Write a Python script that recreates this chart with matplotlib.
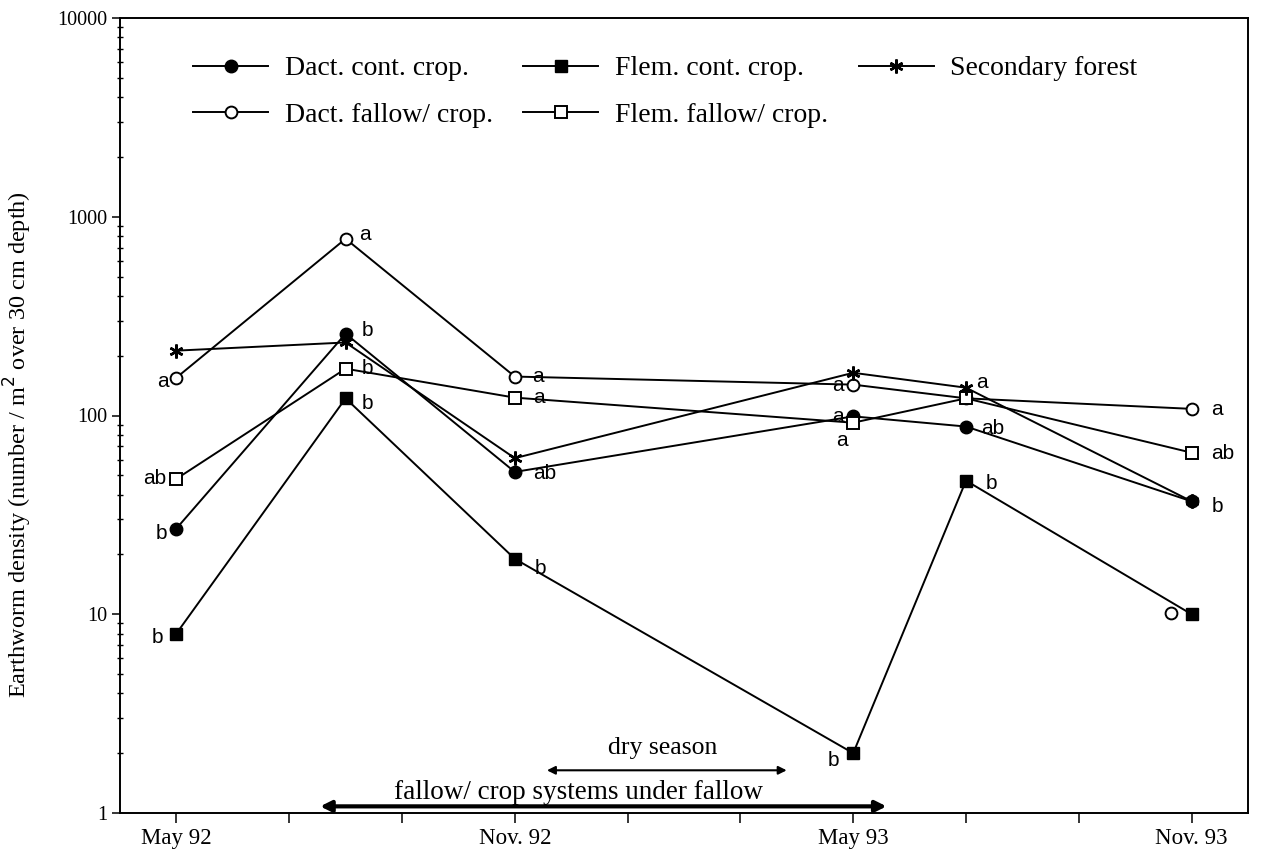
import matplotlib
matplotlib.use("Agg")
import matplotlib.pyplot as plt
from matplotlib.ticker import FixedLocator, LogLocator, NullFormatter

# ---------------- data ----------------
# sampling dates in months after May 1992
months = [0, 3, 6, 12, 14, 18]
tick_months = [0, 6, 12, 18]
tick_labels = ["May 92", "Nov. 92", "May 93", "Nov. 93"]
minor_months = [2, 4, 8, 10, 14, 16]

series_names = ["Dact. cont. crop.", "Dact. fallow/ crop.", "Flem. cont. crop.",
                "Flem. fallow/ crop.", "Secondary forest"]
dact_cont = [27, 258, 52, 99, 88, 37]
dact_fallow = [155, 775, 157, 143, 122, 108]
flem_cont = [8, 122, 19, 2, 47, 10]
flem_fallow = [48, 172, 123, 92, 122, 65]
sec_forest = [212, 233, 61, 164, 138, 37]

# significance letters
dact_cont_letters = ["b", "b", "ab", "a", "ab", "b"]
dact_fallow_letters = ["a", "a", "a", "a", "a", "a"]
flem_cont_letters = ["b", "b", "b", "b", "b", ""]
flem_fallow_letters = ["ab", "b", "a", "a", "", "ab"]

# isolated open-circle point near Nov. 93
extra_month = [17.64]
extra_value = [10.2]

# ---------------- style ----------------
serif = "Liberation Serif"
sans = "Liberation Sans"
lw = 1.4
# letter offsets in pixels (dx, dy)
off_dact_cont = [(-15, -5), (22, 3), (30, -2), (-15, 0), (27, -2), (26, -5)]
off_flem_cont = [(-19, -4), (22, -5), (26, -10), (-20, -7), (25, -3), (0, 0)]
off_dact_fallow = [(-13, -4), (19, 4), (23, 0), (-15, -1), (16, 16), (25, -1)]
off_flem_fallow = [(-22, 0), (22, 0), (24, 0), (-11, -18), (0, 0), (31, -1)]

fig = plt.figure(figsize=(12.62, 8.6), dpi=100)
ax = fig.add_axes([120 / 1262, 1 - 813 / 860, 1128 / 1262, 795 / 860])

ax.set_yscale("log")
ax.set_xlim(-1.0, 19.0)
ax.set_ylim(1, 10000)

common = dict(color="black", lw=lw, clip_on=False, zorder=3)
l_dc, = ax.plot(months, dact_cont, marker="o", ms=9, mfc="black", mec="black",
                label=series_names[0], **common)
l_df, = ax.plot(months, dact_fallow, marker="o", ms=8.5, mfc="white", mec="black",
                mew=1.4, label=series_names[1], **common)
l_fc, = ax.plot(months, flem_cont, marker="s", ms=8.5, mfc="black", mec="black",
                label=series_names[2], **common)
l_ff, = ax.plot(months, flem_fallow, marker="s", ms=8, mfc="white", mec="black",
                mew=1.4, label=series_names[3], **common)
l_sf, = ax.plot(months, sec_forest, marker=(6, 2, 0), ms=10, mec="black",
                mew=1.8, label=series_names[4], **common)
ax.plot(extra_month, extra_value, ls="none", marker="o", ms=8.5, mfc="white",
        mec="black", mew=1.4, zorder=2)

def put_letters(vals, letters, offs):
    for m, v, t, (dx, dy) in zip(months, vals, letters, offs):
        if t:
            ax.annotate(t, (m, v), xytext=(dx, dy), textcoords="offset pixels",
                        ha="center", va="center", fontsize=15, family=sans,
                        zorder=4)

put_letters(dact_cont, dact_cont_letters, off_dact_cont)
put_letters(flem_cont, flem_cont_letters, off_flem_cont)
put_letters(dact_fallow, dact_fallow_letters, off_dact_fallow)
put_letters(flem_fallow, flem_fallow_letters, off_flem_fallow)

# axes ticks
ax.xaxis.set_major_locator(FixedLocator(tick_months))
ax.xaxis.set_minor_locator(FixedLocator(minor_months))
ax.set_xticklabels(tick_labels, fontsize=16.5, family=serif)
ax.tick_params(axis="x", which="both", direction="out", length=7, width=1.1, pad=4)
ax.yaxis.set_minor_locator(LogLocator(base=10, subs=range(2, 10), numticks=10))
ax.yaxis.set_minor_formatter(NullFormatter())
ax.set_yticks([1, 10, 100, 1000, 10000])
ax.set_yticklabels(["1", "10", "100", "1000", "10000"], fontsize=14.5, family=serif)
ax.tick_params(axis="y", which="major", direction="out", length=6, width=1.1, pad=3)
ax.tick_params(axis="y", which="minor", direction="inout", length=4, width=1.0)
for s in ax.spines.values():
    s.set_linewidth(1.4)

fig.text(18 / 1262, 1 - 445 / 860,
         "Earthworm density (number / m$^2$ over 30 cm depth)",
         rotation=90, ha="center", va="center", fontsize=17.5, family=serif)

# season annotations
ax.annotate("", xy=(10.87, 1.64), xytext=(6.52, 1.64),
            arrowprops=dict(arrowstyle="<|-|>", color="black", lw=1.5,
                            mutation_scale=12))
ax.text(8.62, 2.12, "dry season", ha="center", va="center", fontsize=18.5,
        family=serif)
ax.annotate("", xy=(12.64, 1.08), xytext=(2.5, 1.08),
            arrowprops=dict(arrowstyle="<|-|>", color="black", lw=3.0,
                            mutation_scale=16))
ax.text(7.13, 1.27, "fallow/ crop systems under fallow", ha="center",
        va="center", fontsize=19.5, family=serif)

leg = fig.legend(handles=[l_dc, l_df, l_fc, l_ff, l_sf], ncol=3,
                 loc="upper left", bbox_to_anchor=(193 / 1262, 1 - 56 / 860),
                 frameon=False, borderpad=0, borderaxespad=0,
                 handlelength=2.7, handletextpad=0.6, columnspacing=1.1,
                 labelspacing=0.75, prop={"family": serif, "size": 20})

fig.savefig("out.png", dpi=100)
